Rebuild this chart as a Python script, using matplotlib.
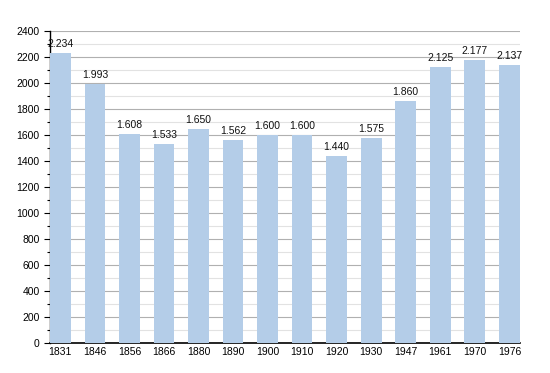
import matplotlib
matplotlib.use("Agg")
import matplotlib.pyplot as plt
from matplotlib.ticker import MultipleLocator

plt.rcParams["font.family"] = ["Liberation Sans", "DejaVu Sans"]

anni = ["1831", "1846", "1856", "1866", "1880", "1890", "1900",
        "1910", "1920", "1930", "1947", "1961", "1970", "1976"]
abitanti = [2234, 1993, 1608, 1533, 1650, 1562, 1600,
            1600, 1440, 1575, 1860, 2125, 2177, 2137]
etichette = ["2.234", "1.993", "1.608", "1.533", "1.650", "1.562", "1.600",
             "1.600", "1.440", "1.575", "1.860", "2.125", "2.177", "2.137"]

fig = plt.figure(figsize=(5.5, 3.73), dpi=100)
ax = fig.add_axes([0.0909, 0.0804, 0.854, 0.8365])

x = range(len(anni))
ax.bar(x, abitanti, width=0.6, color="#b4cde8", zorder=3)

for i, (v, t) in enumerate(zip(abitanti, etichette)):
    ax.text(i, v + 30, t, ha="center", va="bottom", fontsize=7.5, color="#111111", zorder=4)

ax.set_xlim(-0.3, len(anni) - 0.7)
ax.set_ylim(0, 2400)
ax.set_xticks(list(x))
ax.set_xticklabels(anni, fontsize=7.5)
ax.yaxis.set_major_locator(MultipleLocator(200))
ax.yaxis.set_minor_locator(MultipleLocator(100))
ax.tick_params(axis="y", labelsize=7.5, length=4, width=0.8)
ax.tick_params(axis="y", which="minor", length=2, width=0.8)
ax.tick_params(axis="x", length=0, pad=3)

ax.grid(axis="y", which="major", color="#b0b0b0", linewidth=0.8, zorder=0)
ax.grid(axis="y", which="minor", color="#e2e2e2", linewidth=0.8, zorder=0)

for s in ["top", "right"]:
    ax.spines[s].set_visible(False)
ax.spines["left"].set_linewidth(1)
ax.spines["bottom"].set_linewidth(1.2)

fig.savefig("out.png", dpi=100)
